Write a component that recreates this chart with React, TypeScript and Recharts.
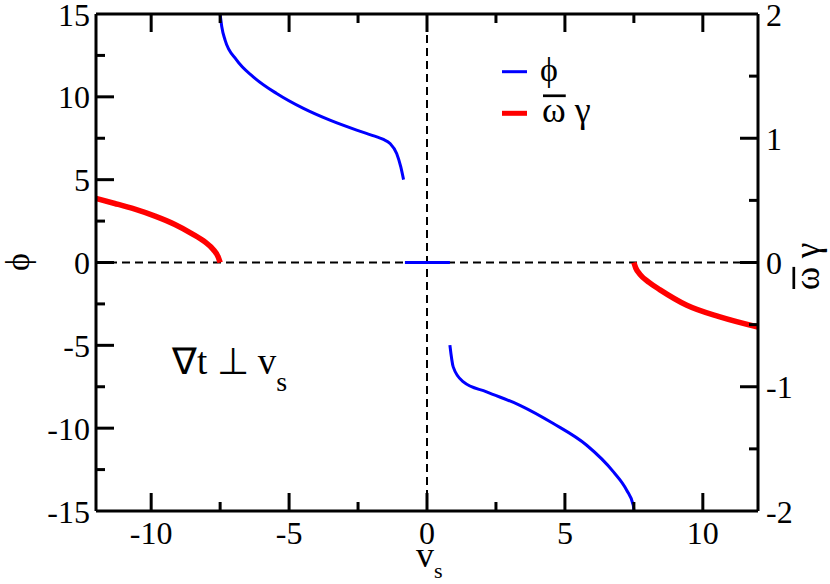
import React from 'react';
import { LineChart, Line, XAxis, YAxis, ReferenceLine, Customized } from 'recharts';

// v_s positions and values
const phiUpperVs = [-7.5, -7.44, -7.32, -6.9, -6.3, -5.45, -4.48, -3.52, -2.55, -1.82, -1.58, -1.34, -1.1, -0.95, -0.85];
const phiUpperVal = [15, 14.23, 13.42, 12.22, 11.21, 10.2, 9.3, 8.59, 7.99, 7.58, 7.43, 7.18, 6.58, 5.77, 5.0];

const phiMidVs = [-0.8, 0.83];
const phiMidVal = [0, 0];

const phiLowerVs = [0.83, 0.95, 1.32, 2.16, 3.37, 4.58, 5.79, 6.76, 7.24, 7.48, 7.5];
const phiLowerVal = [-4.99, -6.3, -7.21, -7.81, -8.62, -9.72, -11.03, -12.64, -13.75, -14.66, -15];

const gammaLeftVs = [-12, -11.32, -10.59, -9.86, -9.14, -8.53, -8.05, -7.75, -7.57, -7.5];
const gammaLeftVal = [0.515, 0.475, 0.429, 0.373, 0.306, 0.233, 0.166, 0.105, 0.045, 0];

const gammaRightVs = [7.5, 7.57, 7.72, 8.05, 8.45, 9.42, 10.62, 12];
const gammaRightVal = [0, -0.045, -0.095, -0.16, -0.22, -0.344, -0.438, -0.52];

const xTicks = [-12, -10, -7.5, -5, -2.5, 0, 2.5, 5, 7.5, 10, 12];
const leftTicks = [-15, -12.5, -10, -7.5, -5, -2.5, 0, 2.5, 5, 7.5, 10, 12.5, 15];
const rightTicks = [-2, -1.5, -1, -0.5, 0, 0.5, 1, 1.5, 2];

const toPoints = (xs: number[], ys: number[]) => xs.map((x, i) => ({ x, y: ys[i] }));

const txt = { fontFamily: '"Liberation Serif", "Liberation Sans", serif', fill: '#000' };
const MAJOR = 18;
const MINOR = 9;

const BottomTick = (props: any) => {
  const { x, y, payload } = props;
  const v = payload.value;
  if (Math.abs(v) === 12) return null;
  const major = v % 5 === 0;
  return (
    <g>
      <line x1={x} x2={x} y1={y} y2={y - (major ? MAJOR : MINOR)} stroke="#000" strokeWidth={3} />
      {major && (
        <text x={x} y={y + 33} textAnchor="middle" fontSize={32} style={txt}>
          {v}
        </text>
      )}
    </g>
  );
};

const TopTick = (props: any) => {
  const { x, y, payload } = props;
  const v = payload.value;
  if (Math.abs(v) === 12) return null;
  const major = v % 5 === 0;
  return <line x1={x} x2={x} y1={y} y2={y + (major ? MAJOR : MINOR)} stroke="#000" strokeWidth={3} />;
};

const LeftTick = (props: any) => {
  const { x, y, payload } = props;
  const v = payload.value;
  const major = v % 5 === 0;
  return (
    <g>
      {Math.abs(v) !== 15 && (
        <line x1={x} x2={x + (major ? MAJOR : MINOR)} y1={y} y2={y} stroke="#000" strokeWidth={3} />
      )}
      {major && (
        <text x={x - 6} y={y} dy="0.36em" textAnchor="end" fontSize={32} style={txt}>
          {v}
        </text>
      )}
    </g>
  );
};

const RightTick = (props: any) => {
  const { x, y, payload } = props;
  const v = payload.value;
  const major = Number.isInteger(v);
  return (
    <g>
      {Math.abs(v) !== 2 && (
        <line x1={x} x2={x - (major ? MAJOR : MINOR)} y1={y} y2={y} stroke="#000" strokeWidth={3} />
      )}
      {major && (
        <text x={x + 8} y={y} dy="0.36em" textAnchor="start" fontSize={32} style={txt}>
          {v}
        </text>
      )}
    </g>
  );
};

// ω with a bar over it, then γ
const OmegaGamma = ({ x, y, size }: { x: number; y: number; size: number }) => (
  <g>
    <text x={x} y={y} fontSize={size} style={txt}>ω γ</text>
    <line x1={x + 1} x2={x + 0.66 * size} y1={y - 0.72 * size} y2={y - 0.72 * size} stroke="#000" strokeWidth={2.7} />
  </g>
);

// titles, legend and the note inside the plot
const Labels = () => (
  <g>
    <text x={29} y={262} transform="rotate(-90, 29, 262)" textAnchor="middle" fontSize={34} style={txt}>ϕ</text>
    <g transform="rotate(-90, 818, 262)">
      <OmegaGamma x={790} y={263} size={35} />
    </g>
    <text x={416} y={567} fontSize={36} style={txt}>
      v<tspan dy={11} fontSize={22}>s</tspan>
    </text>
    <text x={172} y={374} fontSize={37} style={txt}>
      ∇t ⊥ v<tspan dy={17} fontSize={28}>s</tspan>
    </text>
    <line x1={502} x2={527} y1={71.7} y2={71.7} stroke="#0000ff" strokeWidth={3} />
    <text x={540} y={81} fontSize={34} style={txt}>ϕ</text>
    <line x1={502} x2={527} y1={113.3} y2={113.3} stroke="#ff0000" strokeWidth={5} />
    <OmegaGamma x={542} y={121.7} size={36} />
  </g>
);

const axisLine = { stroke: '#000', strokeWidth: 3 };

export default function App() {
  return (
    <div style={{ position: 'absolute', left: 0, top: 0 }}>
      <LineChart width={830} height={584} margin={{ top: 13, right: 71, bottom: 72, left: 95 }}>
        <XAxis
          xAxisId="bottom"
          dataKey="x"
          type="number"
          domain={[-12, 12]}
          ticks={xTicks}
          interval={0}
          allowDataOverflow
          height={1}
          tickSize={0}
          tickMargin={0}
          tickLine={false}
          tick={<BottomTick />}
          axisLine={axisLine}
        />
        <XAxis
          xAxisId="top"
          orientation="top"
          dataKey="x"
          type="number"
          domain={[-12, 12]}
          ticks={xTicks}
          interval={0}
          allowDataOverflow
          height={1}
          tickSize={0}
          tickMargin={0}
          tickLine={false}
          tick={<TopTick />}
          axisLine={axisLine}
        />
        <YAxis
          yAxisId="left"
          type="number"
          domain={[-15, 15]}
          ticks={leftTicks}
          interval={0}
          allowDataOverflow
          width={1}
          tickSize={0}
          tickMargin={0}
          tickLine={false}
          tick={<LeftTick />}
          axisLine={axisLine}
        />
        <YAxis
          yAxisId="right"
          orientation="right"
          type="number"
          domain={[-2, 2]}
          ticks={rightTicks}
          interval={0}
          allowDataOverflow
          width={1}
          tickSize={0}
          tickMargin={0}
          tickLine={false}
          tick={<RightTick />}
          axisLine={axisLine}
        />
        <ReferenceLine xAxisId="bottom" yAxisId="left" y={0} stroke="#000" strokeWidth={2} strokeDasharray="8 5" />
        <ReferenceLine xAxisId="bottom" yAxisId="left" x={0} stroke="#000" strokeWidth={2} strokeDasharray="8 5" />
        <Line
          xAxisId="bottom"
          yAxisId="left"
          data={toPoints(phiUpperVs, phiUpperVal)}
          dataKey="y"
          type="monotone"
          stroke="#0000ff"
          strokeWidth={3}
          dot={false}
          isAnimationActive={false}
        />
        <Line
          xAxisId="bottom"
          yAxisId="left"
          data={toPoints(phiMidVs, phiMidVal)}
          dataKey="y"
          type="linear"
          stroke="#0000ff"
          strokeWidth={3}
          dot={false}
          isAnimationActive={false}
        />
        <Line
          xAxisId="bottom"
          yAxisId="left"
          data={toPoints(phiLowerVs, phiLowerVal)}
          dataKey="y"
          type="monotone"
          stroke="#0000ff"
          strokeWidth={3}
          dot={false}
          isAnimationActive={false}
        />
        <Line
          xAxisId="bottom"
          yAxisId="right"
          data={toPoints(gammaLeftVs, gammaLeftVal)}
          dataKey="y"
          type="monotone"
          stroke="#ff0000"
          strokeWidth={5.5}
          dot={false}
          isAnimationActive={false}
        />
        <Line
          xAxisId="bottom"
          yAxisId="right"
          data={toPoints(gammaRightVs, gammaRightVal)}
          dataKey="y"
          type="monotone"
          stroke="#ff0000"
          strokeWidth={5.5}
          dot={false}
          isAnimationActive={false}
        />
        <Customized component={Labels} />
      </LineChart>
    </div>
  );
}
